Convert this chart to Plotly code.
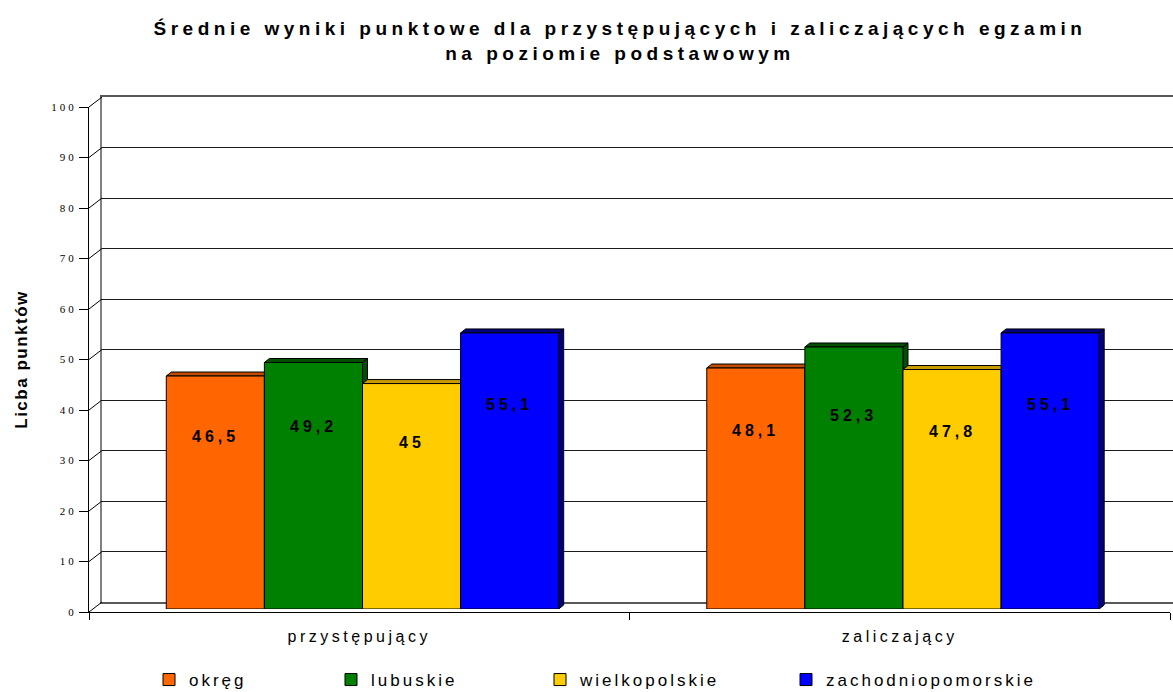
import plotly.graph_objects as go

# ---------------- data ----------------
categories = ["przystępujący", "zaliczający"]
series_names = ["okręg", "lubuskie", "wielkopolskie", "zachodniopomorskie"]
okreg = [46.5, 48.1]
lubuskie = [49.2, 52.3]
wielkopolskie = [45.0, 47.8]
zachodniopomorskie = [55.1, 55.1]
y_ticks = [0, 10, 20, 30, 40, 50, 60, 70, 80, 90, 100]

title_text = "Średnie wyniki punktowe dla przystępujących i zaliczających egzamin<br>na poziomie podstawowym"
y_title = "Licba punktów"

# ---------------- styling ----------------
front_colors = ["#FF6600", "#008000", "#FFCC00", "#0000FF"]
dark_colors = ["#C04C00", "#005000", "#C89B00", "#000080"]
legend_px = [149, 331, 540, 786]   # left edge of each legend entry (px)

W, H = 1173, 692


def px_x(p):
    return p / W


def px_y(p):
    return (H - p) / H


series_values = [okreg, lubuskie, wielkopolskie, zachodniopomorskie]

bar_w = 0.1815          # bar width in category units
shift = 0.006           # small shift of the group to the right
front_left, front_right = 89, 1170
front_bottom, front_top = 612, 107
wall_left, wall_bottom, wall_top = 102, 602, 97
units_px_x = (front_right - front_left) / 2.0
bar_bottom, bar_top100 = 609, 108
units_px_y = (bar_bottom - bar_top100) / 100.0
dx = 5 / units_px_x
dy = 4 / units_px_y

fig = go.Figure()

# invisible traces to create the front axis and the back wall subplots
fig.add_trace(go.Scatter(x=[0], y=[0], xaxis="x", yaxis="y", mode="markers",
                         marker=dict(opacity=0), showlegend=False, hoverinfo="skip"))
fig.add_trace(go.Scatter(x=[0], y=[0], xaxis="x2", yaxis="y2", mode="markers",
                         marker=dict(opacity=0), showlegend=False, hoverinfo="skip"))

shapes = []
annotations = []
legend_layouts = {}
n = len(series_names)
for k, (name, vals) in enumerate(zip(series_names, series_values)):
    off = -n / 2 * bar_w + k * bar_w + shift
    leg_id = "legend" if k == 0 else f"legend{k + 1}"
    fig.add_trace(go.Bar(
        x=[0, 1], y=vals, name=name, width=bar_w, offset=off,
        xaxis="x3", yaxis="y3", legend=leg_id,
        marker=dict(color=front_colors[k], line=dict(color="black", width=1)),
    ))
    legend_layouts[leg_id] = dict(
        orientation="h", x=px_x(legend_px[k]), xanchor="left", y=px_y(680), yanchor="middle",
        bgcolor="rgba(0,0,0,0)",
        font=dict(family="Liberation Sans", size=17, color="black"))
    for i, v in enumerate(vals):
        xl = i + off
        xr = xl + bar_w
        # side face
        shapes.append(dict(
            type="path", xref="x3", yref="y3", layer="below",
            path=f"M {xr},0 L {xr},{v} L {xr+dx},{v+dy} L {xr+dx},{dy} Z",
            fillcolor=dark_colors[k], line=dict(color="black", width=1)))
        # top face
        shapes.append(dict(
            type="path", xref="x3", yref="y3", layer="below",
            path=f"M {xl},{v} L {xr},{v} L {xr+dx},{v+dy} L {xl+dx},{v+dy} Z",
            fillcolor=dark_colors[k], line=dict(color="black", width=1)))
        annotations.append(dict(
            x=xl + bar_w / 2, y=v * 0.74, xref="x3", yref="y3",
            text=f"{v:g}".replace(".", ","), showarrow=False,
            font=dict(family="Liberation Sans", size=16, color="black", weight="bold"),
            xanchor="center", yanchor="middle"))

# diagonal connectors from front axis ticks to the back wall
for t in y_ticks:
    yf = front_bottom - t / 100 * (front_bottom - front_top)
    yb = wall_bottom - t / 100 * (wall_bottom - wall_top)
    shapes.append(dict(
        type="line", xref="paper", yref="paper", layer="above",
        x0=px_x(front_left), x1=px_x(wall_left), y0=px_y(yf), y1=px_y(yb),
        line=dict(color="black", width=1)))

fig.update_layout(
    width=W, height=H,
    margin=dict(l=0, r=0, t=0, b=0, autoexpand=False),
    paper_bgcolor="white", plot_bgcolor="rgba(0,0,0,0)",
    barmode="overlay",
    title=dict(text=title_text, x=620 / W, xanchor="center", y=px_y(35), yanchor="middle",
               font=dict(family="Liberation Sans", size=19, color="black", weight="bold")),
    showlegend=True,
    annotations=annotations,
    shapes=shapes,
    # front axis
    xaxis=dict(domain=[px_x(front_left), px_x(front_right)], range=[-0.5, 1.5],
               showgrid=False, zeroline=False, showline=True, linecolor="black", linewidth=1,
               tickvals=[-0.5, 0.5, 1.5], ticktext=["", "", ""], ticks="outside",
               ticklen=7, tickcolor="black", anchor="y", fixedrange=True, automargin=False),
    yaxis=dict(domain=[px_y(front_bottom), px_y(front_top)], range=[0, 100],
               showgrid=False, zeroline=False, showline=True, linecolor="black", linewidth=1,
               tickvals=y_ticks, ticks="outside", ticklen=9, tickcolor="black",
               tickfont=dict(family="Liberation Serif", size=11, color="black"),
               title=dict(text=y_title, standoff=28,
                          font=dict(family="Liberation Sans", size=17, color="black", weight="bold")),
               anchor="x", fixedrange=True, automargin=False),
    # back wall
    xaxis2=dict(domain=[px_x(wall_left), 1.0], range=[0, 1], showgrid=False, zeroline=False,
                showline=True, linecolor="#595959", linewidth=2, mirror=True,
                showticklabels=False, ticks="", anchor="y2", fixedrange=True, automargin=False),
    yaxis2=dict(domain=[px_y(wall_bottom), px_y(wall_top)], range=[0, 100], showgrid=True,
                gridcolor="#1a1a1a", gridwidth=1, dtick=10, zeroline=False,
                showline=True, linecolor="#808080", linewidth=2,
                showticklabels=False, ticks="", anchor="x2", fixedrange=True, automargin=False),
    # bars
    xaxis3=dict(domain=[px_x(front_left), px_x(front_right)], range=[-0.5, 1.5],
                showgrid=False, zeroline=False, showline=False,
                tickvals=[0, 1], ticktext=categories, ticks="",
                ticklabelstandoff=16,
                tickfont=dict(family="Liberation Sans", size=16, color="black"),
                anchor="y3", fixedrange=True, automargin=False),
    yaxis3=dict(domain=[px_y(bar_bottom), px_y(bar_top100)], range=[0, 100],
                showgrid=False, zeroline=False, showline=False, showticklabels=False,
                ticks="", anchor="x3", fixedrange=True, automargin=False),
    **legend_layouts,
)

post_script = """
document.body.style.margin = '0';
var css = document.createElement('style');
css.textContent = [
  '.gtitle { letter-spacing: 4.5px !important; }',
  '.annotation-text { letter-spacing: 4px !important; }',
  '.x3tick text { letter-spacing: 3.5px !important; }',
  '.ytick text { letter-spacing: 3px !important; }',
  '.legendtext { letter-spacing: 3px !important; }',
  'g[class^="legend"] text { letter-spacing: 3px !important; }',
  '.ytitle { letter-spacing: 1.5px !important; }',
  '.scrollbox { clip-path: none !important; }'
].join('\\n');
document.head.appendChild(css);
"""

fig.write_html("out.html", post_script=post_script, config={"displayModeBar": False})
